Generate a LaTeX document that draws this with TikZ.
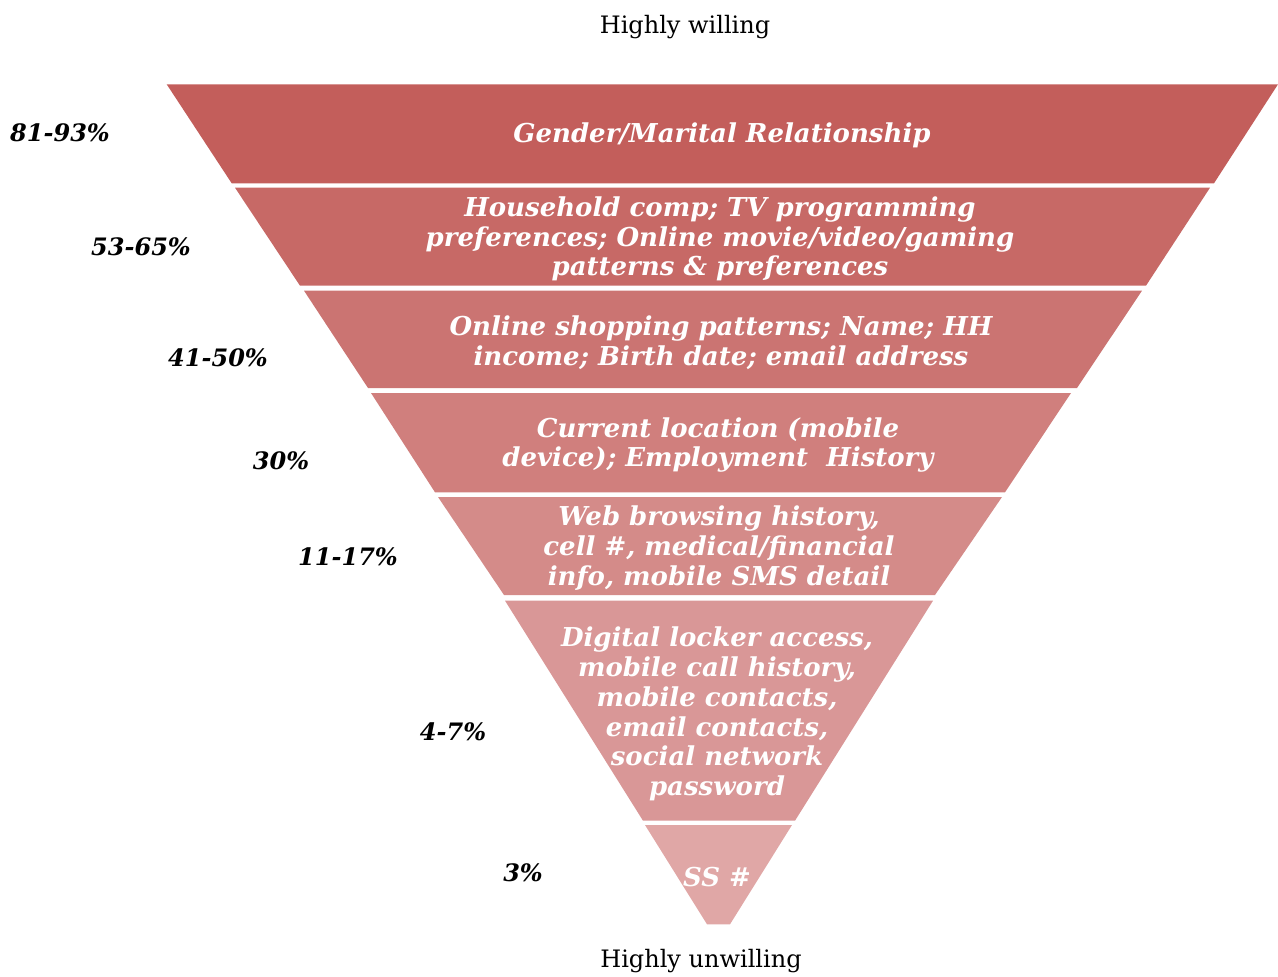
\documentclass[tikz,border=0pt]{standalone}
\usepackage{fontspec}
\setmainfont{DejaVu Serif}
\definecolor{bandA}{HTML}{C35E5B}
\definecolor{bandB}{HTML}{C76966}
\definecolor{bandC}{HTML}{CB7472}
\definecolor{bandD}{HTML}{D07F7D}
\definecolor{bandE}{HTML}{D48B89}
\definecolor{bandF}{HTML}{D99797}
\definecolor{bandG}{HTML}{E0A7A6}
\begin{document}
\begin{tikzpicture}[x=1pt,y=-1pt,
  bandfill/.style={fill=#1,draw=none},
  bandtext/.style={text=white,font=\bfseries\itshape\fontsize{26}{29.8}\selectfont,align=center,inner sep=0pt},
  pct/.style={font=\bfseries\itshape\fontsize{24}{28}\selectfont,inner sep=0pt},
  endlabel/.style={font=\fontsize{24}{28}\selectfont,inner sep=0pt}]
\useasboundingbox (0,0) rectangle (1278,977);

% funnel bands, top to bottom
\fill[bandfill=bandA] (166.7,84.3) -- (1278,84.3) -- (1214,183.3) -- (231.7,183.3) -- cycle;
\fill[bandfill=bandB] (235,187.7) -- (1210,187.7) -- (1146,285.7) -- (300,285.7) -- cycle;
\fill[bandfill=bandC] (304,290.7) -- (1142,290.7) -- (1077,388) -- (368,388) -- cycle;
\fill[bandfill=bandD] (371,393) -- (1071,393) -- (1005,492.3) -- (435,492.3) -- cycle;
\fill[bandfill=bandE] (438,497) -- (1002,497) -- (935,595) -- (504,595) -- cycle;
\fill[bandfill=bandF] (505,600.7) -- (933,600.7) -- (795,820.7) -- (643,820.7) -- cycle;
\fill[bandfill=bandG] (645,825) -- (792,825) -- (730,924.3) -- (707,924.3) -- cycle;

% band texts
\node[bandtext] (tA) at (722,135) {Gender/Marital Relationship};
\node[bandtext] (tB) at (720,239) {Household comp; TV programming\\preferences; Online movie/video/gaming\\patterns \& preferences};
\node[bandtext] (tC) at (721,343) {Online shopping patterns; Name; HH\\income; Birth date; email address};
\node[bandtext] (tD) at (718,445) {Current location (mobile\\device); Employment\ \ History};
\node[bandtext] (tE) at (719,548) {Web browsing history,\\cell \#, medical/financial\\info, mobile SMS detail};
\node[bandtext] (tF) at (717,714) {Digital locker access,\\mobile call history,\\mobile contacts,\\email contacts,\\social network\\password};
\node[bandtext] (tG) at (717,877) {SS \#};

% willingness percentages
\node[pct] (pA) at (60,133) {81-93\%};
\node[pct] (pB) at (141,247) {53-65\%};
\node[pct] (pC) at (218,358) {41-50\%};
\node[pct] (pD) at (281,461) {30\%};
\node[pct] (pE) at (348,557) {11-17\%};
\node[pct] (pF) at (453,732) {4-7\%};
\node[pct] (pG) at (523,873) {3\%};

% axis ends
\node[endlabel] (top) at (685,27) {Highly willing};
\node[endlabel] (bottom) at (701,961) {Highly unwilling};
\end{tikzpicture}
\end{document}
